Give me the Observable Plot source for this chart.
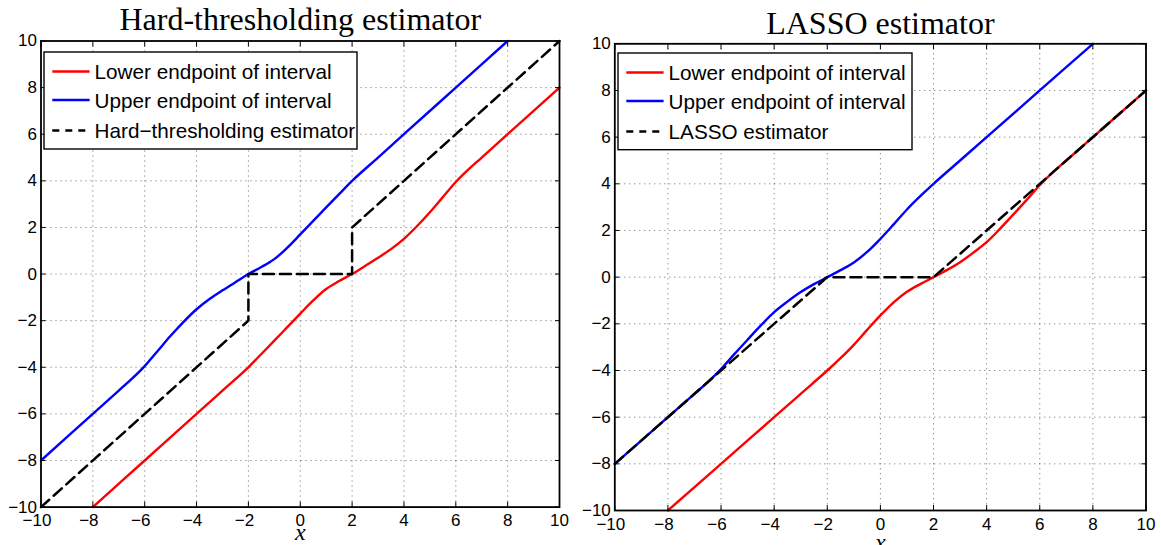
<!DOCTYPE html>
<html>
<head>
<meta charset="utf-8">
<script src="https://cdn.jsdelivr.net/npm/d3@7"></script>
<script src="https://cdn.jsdelivr.net/npm/@observablehq/plot@0.6"></script>
<style>
  html, body { margin: 0; padding: 0; background: #fff; }
  #wrap { position: relative; width: 1161px; height: 545px; overflow: hidden; background: #fff; }
  .panel { position: absolute; top: 0; }
  .legend { position: absolute; }
</style>
</head>
<body>
<div id="wrap"></div>
<script>
// ---------- data ----------
const ticks = [-10, -8, -6, -4, -2, 0, 2, 4, 6, 8, 10];
const negTicks = [-10, -8, -6, -4, -2];
const posTicks = [0, 2, 4, 6, 8, 10];

// Hard-thresholding panel
const hardUpperX = [-10, -8, -7, -6.5, -6, -5.5, -5, -4.5, -4, -3.5, -3, -2.5, -2, -1.5, -1, -0.5, 0, 0.5, 1, 1.5, 2, 3, 4, 6, 8];
const hardUpperY = [-8, -6, -5, -4.5, -3.95, -3.3, -2.65, -2.05, -1.51, -1.07, -0.7, -0.35, 0, 0.3, 0.64, 1.13, 1.7, 2.28, 2.86, 3.43, 4, 5, 6, 8, 10];
const hardLowerX = [-8, -6, -4, -3, -2, -1.5, -1, -0.5, 0, 0.5, 1, 1.5, 2, 2.5, 3, 3.5, 4, 4.5, 5, 5.5, 6, 6.5, 7, 8, 10];
const hardLowerY = [-10, -8, -6, -5, -4, -3.43, -2.86, -2.28, -1.7, -1.13, -0.64, -0.3, 0, 0.35, 0.7, 1.07, 1.51, 2.05, 2.65, 3.3, 3.95, 4.5, 5, 6, 8];
const hardEstX = [-10, -2, -2, 2, 2, 10];
const hardEstY = [-10, -2, 0, 0, 2, 10];

// LASSO panel
const lassoUpperX = [-10, -8, -7, -6.5, -6, -5.5, -5, -4.5, -4, -3.5, -3, -2.5, -2, -1.5, -1, -0.5, 0, 0.5, 1, 1.5, 2, 3, 4, 6, 8];
const lassoUpperY = [-8, -6, -5, -4.5, -3.94, -3.3, -2.68, -2.07, -1.5, -1.05, -0.64, -0.3, 0, 0.3, 0.63, 1.08, 1.64, 2.26, 2.9, 3.47, 4, 5, 6, 8, 10];
const lassoLowerX = [-8, -6, -4, -3, -2, -1.5, -1, -0.5, 0, 0.5, 1, 1.5, 2, 2.5, 3, 3.5, 4, 4.5, 5, 5.5, 6, 6.5, 7, 8, 10];
const lassoLowerY = [-10, -8, -6, -5, -4, -3.47, -2.9, -2.26, -1.64, -1.08, -0.63, -0.3, 0, 0.3, 0.64, 1.05, 1.5, 2.07, 2.68, 3.3, 3.94, 4.5, 5, 6, 8];
const lassoEstX = [-10, -2, 2, 10];
const lassoEstY = [-8, 0, 0, 8];

const legendLabels = ["Lower endpoint of interval", "Upper endpoint of interval"];
const hardEstLabel = "Hard\u2212thresholding estimator";
const lassoEstLabel = "LASSO estimator";

// ---------- helpers ----------
const pts = (xs, ys) => xs.map((x, i) => ({x, y: ys[i]}));
const SANS = "'Liberation Sans', Arial, Helvetica, sans-serif";
const SERIF = "'Liberation Serif', 'Times New Roman', serif";

function panel(cfg) {
  const tickFont = 17;
  return Plot.plot({
    width: cfg.width,
    height: 545,
    marginLeft: cfg.ml, marginRight: cfg.mr, marginTop: cfg.mt, marginBottom: cfg.mb,
    x: {domain: [-10, 10]},
    y: {domain: [-10, 10]},
    style: {fontFamily: SANS, fontSize: tickFont + "px", background: "transparent", color: "#000", overflow: "visible"},
    marks: [
      Plot.gridX(ticks, {stroke: "#000", strokeOpacity: 0.75, strokeWidth: 0.8, strokeDasharray: "1,4"}),
      Plot.gridY(ticks, {stroke: "#000", strokeOpacity: 0.75, strokeWidth: 0.8, strokeDasharray: "1,4"}),
      Plot.line(cfg.lower, {x: "x", y: "y", stroke: "#ff0000", strokeWidth: 2.4, curve: "catmull-rom"}),
      Plot.line(cfg.upper, {x: "x", y: "y", stroke: "#0000ff", strokeWidth: 2.4, curve: "catmull-rom"}),
      Plot.line(cfg.est, {x: "x", y: "y", stroke: "#000", strokeWidth: 2.5, strokeDasharray: "11,6", curve: "linear"}),
      Plot.frame({stroke: "#000", strokeWidth: 1.8}),
      // inward ticks
      Plot.axisX({ticks, anchor: "bottom", tickSize: 5, dy: -5, fill: "none", label: null}),
      Plot.axisX({ticks, anchor: "top", tickSize: 5, dy: 5, fill: "none", label: null}),
      Plot.axisY({ticks, anchor: "left", tickSize: 5, dx: 5, fill: "none", label: null}),
      Plot.axisY({ticks, anchor: "right", tickSize: 5, dx: -5, fill: "none", label: null}),
      // tick labels
      Plot.axisX({ticks: negTicks, anchor: "bottom", tickSize: 0, tickPadding: 7, dx: -4, label: null, fontSize: tickFont, fill: "#000"}),
      Plot.axisX({ticks: posTicks, anchor: "bottom", tickSize: 0, tickPadding: 7, label: null, fontSize: tickFont, fill: "#000"}),
      Plot.axisY({ticks, anchor: "left", tickSize: 0, tickPadding: 4, label: null, fontSize: tickFont, fill: "#000"}),
      // title and x label
      Plot.text([cfg.title], {text: d => d, frameAnchor: "top", lineAnchor: "bottom", dy: cfg.titleDy, fontFamily: SERIF, fontSize: 32, fill: "#000"}),
      Plot.text(["x"], {text: d => d, frameAnchor: "bottom", lineAnchor: "bottom", dy: cfg.xlabDy, fontFamily: SERIF, fontStyle: "italic", fontSize: 24, fill: "#000"})
    ]
  });
}

function legend(left, top, w, h, estLabel) {
  const ns = "http://www.w3.org/2000/svg";
  const svg = document.createElementNS(ns, "svg");
  svg.setAttribute("width", w + 2);
  svg.setAttribute("height", h + 2);
  svg.setAttribute("class", "legend");
  svg.style.left = (left - 1) + "px";
  svg.style.top = (top - 1) + "px";
  const rect = document.createElementNS(ns, "rect");
  rect.setAttribute("x", 1); rect.setAttribute("y", 1);
  rect.setAttribute("width", w); rect.setAttribute("height", h);
  rect.setAttribute("fill", "#fff"); rect.setAttribute("stroke", "#000"); rect.setAttribute("stroke-width", 1.4);
  svg.appendChild(rect);
  const rows = [
    {label: legendLabels[0], color: "#ff0000", dash: null},
    {label: legendLabels[1], color: "#0000ff", dash: null},
    {label: estLabel, color: "#000", dash: "7,6"}
  ];
  const offs = [19.5, 48, 78.5];
  rows.forEach((r, i) => {
    const yy = 1 + offs[i];
    const ln = document.createElementNS(ns, "line");
    ln.setAttribute("x1", 1 + 8.3); ln.setAttribute("x2", 1 + 45.6);
    ln.setAttribute("y1", yy); ln.setAttribute("y2", yy);
    ln.setAttribute("stroke", r.color); ln.setAttribute("stroke-width", 2.5);
    if (r.dash) ln.setAttribute("stroke-dasharray", r.dash);
    svg.appendChild(ln);
    const t = document.createElementNS(ns, "text");
    t.setAttribute("x", 1 + 50.6); t.setAttribute("y", yy);
    t.setAttribute("dominant-baseline", "central");
    t.setAttribute("font-family", SANS); t.setAttribute("font-size", "20.7px");
    t.setAttribute("fill", "#000");
    t.textContent = r.label;
    svg.appendChild(t);
  });
  return svg;
}

const wrap = document.getElementById("wrap");

const left = panel({
  width: 580, ml: 40.5, mr: 21, mt: 40.5, mb: 38.4,
  title: "Hard-thresholding estimator", titleDy: -11.2, xlabDy: 33,
  upper: pts(hardUpperX, hardUpperY), lower: pts(hardLowerX, hardLowerY), est: pts(hardEstX, hardEstY)
});
left.classList.add("panel");
left.style.left = "0px";
wrap.appendChild(left);

const right = panel({
  width: 581, ml: 34.3, mr: 15.5, mt: 43.3, mb: 35,
  title: "LASSO estimator", titleDy: -10.3, xlabDy: 39,
  upper: pts(lassoUpperX, lassoUpperY), lower: pts(lassoLowerX, lassoLowerY), est: pts(lassoEstX, lassoEstY)
});
right.classList.add("panel");
right.style.left = "580px";
wrap.appendChild(right);

wrap.appendChild(legend(44, 52, 313, 97, hardEstLabel));
wrap.appendChild(legend(617.7, 53.3, 294, 96.7, lassoEstLabel));
</script>
</body>
</html>
